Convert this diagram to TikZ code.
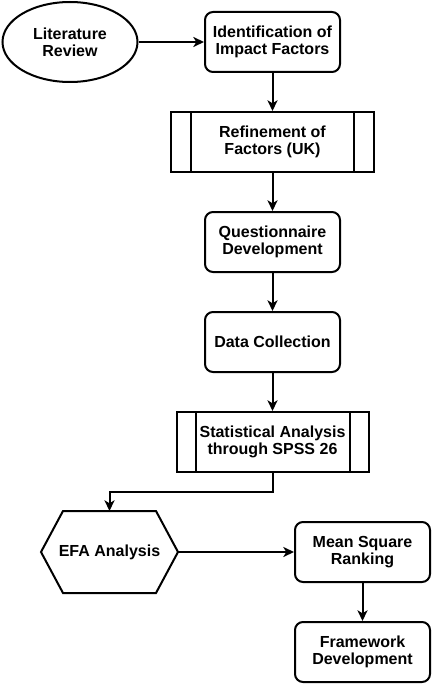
\documentclass[tikz,border=0pt]{standalone}
\usepackage{fontspec}
\setmainfont{Liberation Sans}
\usetikzlibrary{shapes.geometric,arrows.meta}
\begin{document}
\begin{tikzpicture}[x=0.75pt,y=-0.75pt,
  base/.style={draw=black,line width=1.5pt,align=center,inner sep=0pt,
    font=\fontsize{12pt}{13pt}\selectfont\bfseries},
  oval/.style={base,ellipse,minimum width=101.25pt,minimum height=60pt},
  rbox/.style={base,rectangle,rounded corners=6pt,minimum width=101.25pt,minimum height=45pt},
  pbox/.style={base,rectangle,minimum height=45pt},
  hexa/.style={base,draw=none,minimum width=101.25pt,minimum height=60pt},
  conn/.style={line width=1.5pt,-{Stealth[length=8pt,width=7.5pt,inset=2.2pt]}},
  edge/.style={line width=1.5pt}
]
\useasboundingbox (0,0) rectangle (433,685);
\node[oval] (lit) at (70,42) {Literature\\Review};
\node[rbox] (ident) at (272.5,42) {Identification of\\Impact Factors};
\node[pbox,minimum width=152.25pt] (refine) at (272.5,142) {Refinement of\\Factors (UK)};
\draw[edge] ([xshift=15.75pt]refine.north west) -- ([xshift=15.75pt]refine.south west);
\draw[edge] ([xshift=-15.75pt]refine.north east) -- ([xshift=-15.75pt]refine.south east);
\node[rbox] (quest) at (272.5,242) {Questionnaire\\Development};
\node[rbox] (data) at (272.5,342) {Data Collection};
\node[pbox,minimum width=144pt] (stat) at (272.5,442) {Statistical Analysis\\through SPSS 26};
\draw[edge] ([xshift=15pt]stat.north west) -- ([xshift=15pt]stat.south west);
\draw[edge] ([xshift=-15pt]stat.north east) -- ([xshift=-15pt]stat.south east);
\node[hexa] (efa) at (109.5,552) {EFA Analysis};
\draw[edge,line join=miter] (efa.west) -- ([xshift=16.5pt]efa.north west) -- ([xshift=-16.5pt]efa.north east)
  -- (efa.east) -- ([xshift=-16.5pt]efa.south east) -- ([xshift=16.5pt]efa.south west) -- cycle;
\node[rbox] (mean) at (362.5,552) {Mean Square\\Ranking};
\node[rbox] (frame) at (362.5,652) {Framework\\Development};
\coordinate (bend) at (272.5,492);
\draw[conn] (lit) -- (ident);
\draw[conn] (ident) -- (refine);
\draw[conn] (refine) -- (quest);
\draw[conn] (quest) -- (data);
\draw[conn] (data) -- (stat);
\draw[conn] (stat.south) -- (bend) -| (efa.north);
\draw[conn] (efa.east) -- (mean);
\draw[conn] (mean) -- (frame);
\end{tikzpicture}
\end{document}
